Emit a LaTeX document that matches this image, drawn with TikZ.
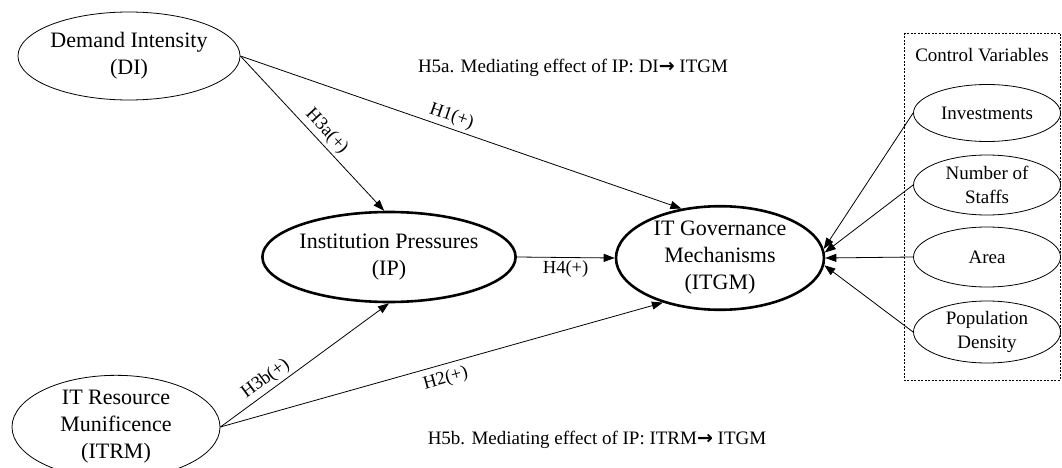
\documentclass[tikz,border=0pt]{standalone}
\usepackage{fontspec}
\setmainfont{Liberation Serif}
\newfontfamily\arrowfont{DejaVu Sans}
\usetikzlibrary{arrows.meta,shapes.geometric}

\newcommand{\medarrow}{{\arrowfont\bfseries →}}

\tikzset{
  construct/.style={ellipse, draw, line width=0.8pt, inner sep=0pt, align=center,
    font=\fontsize{22}{27}\selectfont},
  keyconstruct/.style={construct, line width=2.6pt},
  control/.style={ellipse, draw, line width=0.8pt, inner sep=0pt, align=center,
    minimum width=147pt, font=\fontsize{19}{24}\selectfont},
  path/.style={line width=0.8pt, -{Triangle[length=11pt,width=8pt]}},
  hyp/.style={font=\fontsize{18.5}{22}\selectfont, sloped, inner sep=3pt},
  note/.style={font=\fontsize{19}{23}\selectfont},
  ctrlbox/.style={line width=0.8pt, dash pattern=on 2pt off 1.5pt}
}

\begin{document}
\begin{tikzpicture}[x=1pt,y=-1pt]
\useasboundingbox (0,0) rectangle (1062,468);

% latent constructs
\node[construct, minimum width=206pt, minimum height=88pt] (DI) at (129,56)
  {Demand Intensity\\(DI)};
\node[construct, minimum width=208pt, minimum height=90pt] (ITRM) at (116,427)
  {IT Resource\\Munificence\\(ITRM)};
\node[keyconstruct, minimum width=208pt, minimum height=90pt] (IP) at (389,257)
  {Institution Pressures\\(IP)};
\node[keyconstruct, minimum width=208pt, minimum height=90pt] (ITGM) at (720,258)
  {IT Governance\\Mechanisms\\(ITGM)};

% control variables
\draw[ctrlbox] (904,33) rectangle (1060,380);
\node[note] (CVtitle) at (982,55) {Control Variables};
\node[control, minimum height=57pt] (INV) at (987,113) {Investments};
\node[control, minimum height=60pt] (NOS) at (987,185) {Number of\\Staffs};
\node[control, minimum height=60pt] (AREA) at (987,257) {Area};
\node[control, minimum height=62pt] (POP) at (987,332) {Population\\Density};

% hypothesised paths
\draw[path] (DI.east) -- node[hyp, pos=0.47, above] {H1(+)} (ITGM.128);
\draw[path] (DI.east) -- node[hyp, pos=0.54, above] {H3a(+)} (IP.96);
\draw[path] (ITRM.east) -- node[hyp, pos=0.31, above] {H3b(+)} (IP.south);
\draw[path] (ITRM.east) -- node[hyp, pos=0.5, below, inner sep=6pt] {H2(+)} (ITGM.218);
\draw[path] (IP.east) -- node[hyp, pos=0.5, below] {H4(+)} (ITGM.west);

% control paths
\draw[path] (INV.west) -- (ITGM.5);
\draw[path] (NOS.west) -- (ITGM.3);
\draw[path] (AREA.west) -- (ITGM.east);
\draw[path] (POP.west) -- (ITGM.-4);

% mediation notes
\node[note] (H5a) at (573,68) {H5a. Mediating effect of IP: DI\medarrow\ ITGM};
\node[note] (H5b) at (597,440) {H5b. Mediating effect of IP: ITRM\medarrow\ ITGM};
\end{tikzpicture}
\end{document}
